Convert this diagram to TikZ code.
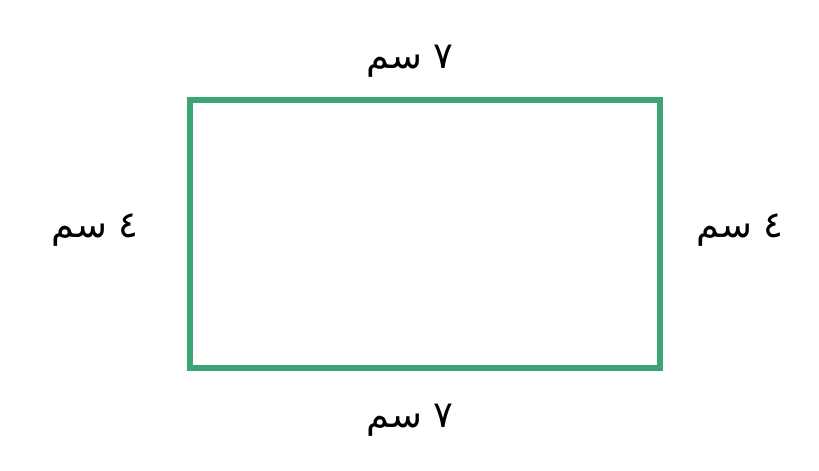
\documentclass[tikz,border=0pt]{standalone}
\usepackage{fontspec}
\usepackage{tikz}
\usepackage{xcolor}
\newfontfamily\arabicfont[Script=Arabic]{DejaVu Sans}
\TeXXeTstate=1
\definecolor{rectgreen}{RGB}{60,165,120}

\begin{document}
\begin{tikzpicture}[every node/.style={font=\arabicfont\fontsize{21}{25}\selectfont}]

% Frame (819x471 px at 0.02cm per px)
\useasboundingbox (0,0) rectangle (16.38,9.42);

% Rectangle
\draw[rectgreen, line width=3pt] (3.8,2.06) rectangle (13.2,7.42);

% Lengths of the sides
\node (top) at (8.2,8.2) {\beginR ٧ سم\endR};
\node (bottom) at (8.2,1.02) {\beginR ٧ سم\endR};

% Widths of the sides
\node (left) at (1.9,4.82) {\beginR ٤ سم\endR};
\node (right) at (14.8,4.82) {\beginR ٤ سم\endR};

\end{tikzpicture}
\end{document}
